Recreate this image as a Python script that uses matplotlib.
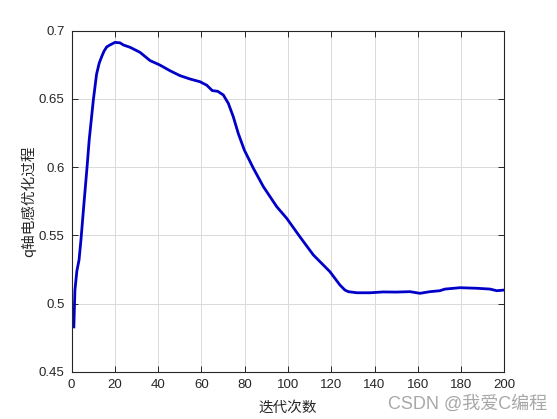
import matplotlib
matplotlib.use("Agg")
import matplotlib.pyplot as plt

plt.rcParams['font.family'] = ['Liberation Sans', 'Noto Sans CJK SC', 'DejaVu Sans']

iters = [1, 1.5, 2.4, 3.4, 4.3, 5.6, 7.1, 8.1, 10, 11.5, 12.7, 13.9, 15, 16.2, 17.7, 20,
         22.3, 23.9, 27, 31.6, 36.2, 40.8, 45.4, 50, 54.7, 59.3, 62.4, 65, 67.5,
         70.1, 72.4, 74.7, 77, 79.8, 84, 88.6, 94.8, 99.4, 105.5, 111.7, 119.4,
         124, 126.3, 127.9, 131.8, 137.9, 144, 150, 156.4, 161, 165.6, 170.2,
         172.6, 179.5, 187.2, 193.4, 196.5, 200]
values = [0.483, 0.510, 0.524, 0.532, 0.547, 0.572, 0.600, 0.620, 0.649, 0.668, 0.676,
          0.681, 0.685, 0.688, 0.6894, 0.6913, 0.691, 0.6894, 0.6877, 0.684, 0.678,
          0.6747, 0.6706, 0.667, 0.6645, 0.6625, 0.660, 0.656, 0.6555, 0.6528,
          0.6467, 0.6369, 0.6247, 0.6125, 0.5991, 0.5857, 0.571, 0.5625, 0.549,
          0.5357, 0.5234, 0.5137, 0.5100, 0.5088, 0.508, 0.508, 0.5086, 0.5085,
          0.5088, 0.5076, 0.5088, 0.5095, 0.5107, 0.5117, 0.5113, 0.5107, 0.5095,
          0.510]

xticks = [0, 20, 40, 60, 80, 100, 120, 140, 160, 180, 200]
yticks = [0.45, 0.5, 0.55, 0.6, 0.65, 0.7]
ytick_labels = ['0.45', '0.5', '0.55', '0.6', '0.65', '0.7']

fig = plt.figure(figsize=(5.57, 4.19), dpi=100)
ax = fig.add_axes([0.1287, 0.1122, 0.7767, 0.815])
ax.plot(iters, values, color='#0000C8', linewidth=2.0, solid_joinstyle='round')
ax.set_xlim(0, 200)
ax.set_ylim(0.45, 0.7)
ax.set_xticks(xticks)
ax.set_yticks(yticks)
ax.set_yticklabels(ytick_labels)
ax.grid(True, color='#DADADA', linewidth=0.7)
ax.set_axisbelow(True)
ax.tick_params(direction='in', top=True, right=True, length=4, width=0.7,
               labelsize=9.5, colors='#262626', pad=5)
for s in ax.spines.values():
    s.set_color('#262626')
    s.set_linewidth(0.8)
ax.set_xlabel('迭代次数', family=['Noto Sans CJK SC', 'DejaVu Sans'], fontsize=10.5,
              color='#262626', labelpad=7)
ax.set_ylabel('q轴电感优化过程', family=['Noto Sans CJK SC', 'DejaVu Sans'], fontsize=10.5,
              color='#262626', labelpad=2)
fig.text(0.982, 0.035, 'CSDN @我爱C编程', ha='right', va='center', fontsize=13,
         color='#A8A8A8', family=['Liberation Sans', 'Noto Sans CJK SC'])
fig.savefig('out.png', dpi=100)
